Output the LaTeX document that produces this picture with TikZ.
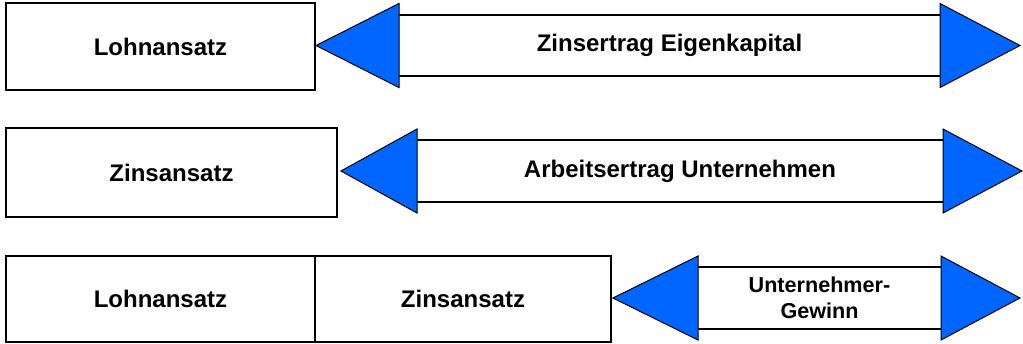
\documentclass[tikz,border=0pt]{standalone}
\usepackage{fontspec}
\setmainfont{Liberation Sans}
\usepackage{tikz}
\usetikzlibrary{positioning}
\definecolor{HeadBlue}{HTML}{0066FF}

\begin{document}
\begin{tikzpicture}[x=0.5pt, y=-0.5pt,
  every node/.style={font=\bfseries\fontsize{12}{14}\selectfont, outer sep=0pt, inner sep=0pt},
  box/.style={draw, line width=1.2pt, fill=white},
  shaft/.style={},
  head/.style={fill=HeadBlue, draw=black, line width=0.5pt, line join=miter}]
  \useasboundingbox (0,0) rectangle (1023,343);
  % row 1
  \node[box, minimum width=154.5pt, minimum height=43.5pt] (lohn1) at (160.5,46.5) {Lohnansatz};
  \node[shaft, minimum width=270.5pt, minimum height=30.5pt] (zins1) at (669.5,45.5) {Zinsertrag Eigenkapital};
  % row 2
  \node[box, minimum width=165.5pt, minimum height=44.5pt] (zins2) at (171.5,172.5) {Zinsansatz};
  \node[shaft, minimum width=263pt, minimum height=31pt] (arb2) at (680,171) {Arbeitsertrag Unternehmen};
  % row 3
  \node[box, minimum width=154.5pt, minimum height=43pt] (lohn3) at (160.5,299) {Lohnansatz};
  \node[box, minimum width=148pt, minimum height=43pt, right=0pt of lohn3] (zins3) {Zinsansatz};
  \node[shaft, minimum width=121.5pt, minimum height=31pt, align=center,
        font=\bfseries\fontsize{10.8}{12.8}\selectfont] (gew3) at (819.5,298) {Unternehmer-\\Gewinn};
  % shafts and heads
  \foreach \n/\l/\r in {zins1/83/80, arb2/76/79, gew3/85/79} {
    \draw[line width=1.2pt] (\n.north west) -- (\n.north east);
    \draw[line width=1.2pt] (\n.south west) -- (\n.south east);
    \filldraw[head] (\n.west) ++(0,-42) -- ++(0,84) -- ++(-\l,-42) -- cycle;
    \filldraw[head] (\n.east) ++(0,-42) -- ++(0,84) -- ++(\r,-42) -- cycle;
  }
\end{tikzpicture}
\end{document}
